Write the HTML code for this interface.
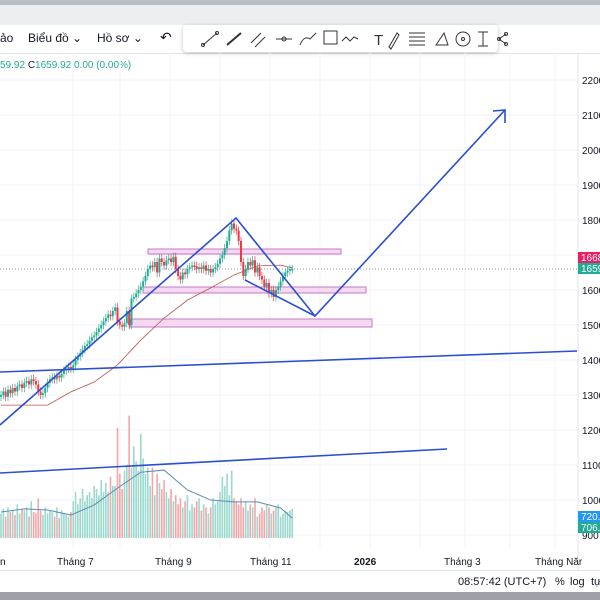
<!DOCTYPE html>
<html><head><meta charset="utf-8">
<style>
body{margin:0;width:600px;height:600px;overflow:hidden;background:#fff;font-family:"Liberation Sans",sans-serif;position:relative}
.abs{position:absolute}
.tb{font-size:12px;color:#131722;top:31px}
.tl{font-size:10px;color:#131722;top:557px}
</style></head><body>
<div class="abs" style="left:0;top:0;width:600px;height:5px;background:#b9bdc6"></div>
<div class="abs" style="left:0;top:5px;width:600px;height:20px;background:#eceef1"></div>
<div class="abs" style="left:0;top:25px;width:600px;height:28px;background:#fff;border-bottom:1px solid #e0e3eb"></div>
<div class="abs tb" style="left:0">ảo</div>
<div class="abs tb" style="left:28px">Biểu đồ ⌄</div>
<div class="abs tb" style="left:97px">Hồ sơ ⌄</div>
<div class="abs tb" style="left:160px;font-size:14px;top:29px">↶</div>
<div class="abs tb" style="left:185px;font-size:14px;top:29px;color:#c8c8c8">↷</div>
<div class="abs" style="left:183px;top:25px;width:315px;height:27px;background:#fff;border-radius:4px;box-shadow:0 1px 4px rgba(0,0,0,.25)"></div>
<svg class="abs" style="left:183px;top:25px" width="340" height="28" stroke="#333" fill="none" stroke-width="1">
<g><line x1="20" y1="20" x2="34" y2="8"/><circle cx="20" cy="20" r="1.5"/><circle cx="34" cy="8" r="1.5"/></g>
<g><line x1="44" y1="20" x2="58" y2="8" stroke-width="2"/></g>
<g><line x1="68" y1="18" x2="78" y2="8"/><line x1="72" y1="22" x2="82" y2="12"/></g>
<g><line x1="93" y1="14" x2="109" y2="14"/><circle cx="101" cy="14" r="2"/></g>
<g><path d="M117 20 q4 -10 10 -6 l6 -6"/></g>
<g><rect x="141" y="6" width="13" height="13"/></g>
<g><path d="M159 16 l4 -4 l4 4 l4 -4 l4 2"/></g>
<text x="191" y="20" font-size="15" fill="#333" stroke="none">T</text>
<g><path d="M206 22 l8 -14 l2 2 l-8 14z"/></g>
<g><line x1="226" y1="8" x2="242" y2="8"/><line x1="226" y1="12" x2="242" y2="12"/><line x1="226" y1="16" x2="242" y2="16"/><line x1="226" y1="20" x2="242" y2="20"/></g>
<g><path d="M253 20 l8 -12 l4 12z"/></g>
<g><circle cx="280" cy="14" r="7"/><circle cx="280" cy="14" r="1.5"/></g>
<g><line x1="300" y1="7" x2="300" y2="21"/><line x1="295" y1="7" x2="305" y2="7"/><line x1="295" y1="21" x2="305" y2="21"/></g>
<g><circle cx="316" cy="14" r="1.5"/><circle cx="323" cy="9" r="1.5"/><circle cx="323" cy="19" r="1.5"/><line x1="316" y1="14" x2="323" y2="9"/><line x1="316" y1="14" x2="323" y2="19"/></g>
</svg>
<div class="abs" style="left:0;top:60px;font-size:10px;color:#22ab94">59.92 <span style="color:#131722">C</span>1659.92 0.00 (0.00%)</div>

<svg class="abs" id="chart" style="left:0;top:0" width="600" height="600"></svg>

<div class="abs" style="left:0;top:570px;width:600px;height:1px;background:#e0e3eb"></div>
<div class="abs tl" style="left:0">n</div>
<div class="abs tl" style="left:57px">Tháng 7</div>
<div class="abs tl" style="left:155px">Tháng 9</div>
<div class="abs tl" style="left:250px">Tháng 11</div>
<div class="abs tl" style="left:354px;font-weight:bold">2026</div>
<div class="abs tl" style="left:444px">Tháng 3</div>
<div class="abs tl" style="left:535px">Tháng Năr</div>
<div class="abs" style="left:0;top:571px;width:600px;height:21px;background:#fff;font-size:11px;color:#131722">
<span class="abs" style="left:458px;top:5px">08:57:42 (UTC+7)</span>
<span class="abs" style="left:555px;top:5px">%</span>
<span class="abs" style="left:570px;top:5px">log</span>
<span class="abs" style="left:591px;top:5px">tự</span></div>
<div class="abs" style="left:0;top:592px;width:600px;height:8px;background:#9ea2a8"></div>

<script>
const closes=[1300,1310,1295,1315,1305,1320,1310,1325,1330,1320,
1335,1340,1330,1345,1340,1330,1310,1300,1305,1320,
1335,1345,1350,1345,1355,1350,1360,1370,1375,1380,
1375,1385,1400,1410,1420,1430,1440,1445,1455,1465,
1470,1480,1490,1500,1510,1520,1530,1525,1540,1550,
1510,1500,1495,1505,1540,1500,1575,1580,1590,1600,
1610,1625,1640,1660,1670,1665,1680,1650,1690,1680,
1670,1685,1690,1680,1695,1660,1640,1630,1650,1645,
1660,1665,1670,1668,1660,1665,1660,1670,1655,1660,
1650,1660,1665,1675,1690,1700,1720,1740,1770,1790,
1775,1770,1740,1680,1640,1660,1680,1670,1685,1650,
1665,1640,1630,1610,1620,1590,1600,1580,1600,1610,
1625,1640,1650,1655,1660,1660];
const volumes=[800,950,700,1000,850,900,750,1100,800,950,
900,1000,700,1200,850,800,1300,900,750,1000,
800,900,850,700,1000,650,900,800,750,700,
850,1200,1500,1100,1300,1600,1200,1400,1500,1300,
1700,1600,1400,1900,1500,1800,1500,2000,1700,1700,
3600,2100,1600,2200,2400,4000,2300,3000,2500,2200,
3400,2600,2100,2300,1700,2300,1400,2100,1800,1600,
1900,1500,1300,1600,1200,1400,1100,1300,1000,1200,
1400,900,1100,1000,1200,1300,900,1100,1000,800,
1000,1300,1100,1200,1500,2000,1700,2100,1400,2200,
1300,1200,1100,1300,1000,1200,900,1100,1000,1300,
700,800,1000,900,1100,1000,800,900,1000,1100,
700,800,900,850,900,950];
const maStep=10;
const maVals=[1271,1271,1271,1309,1337,1386,1457,1520,1571,1606,1643,1669,1671,1663];
const volMa=[850,950,915,750,1080,1630,2150,2220,1570,1240,1180,1180,980,650];
const priceTicks=[2200,2100,2000,1900,1800,1700,1600,1500,1400,1300,1200,1100,1000,900];

const NS='http://www.w3.org/2000/svg';
const svg=document.getElementById('chart');
const X=i=>1+i*2.33;
const Y=p=>80+(2200-p)*0.35;
const VY=v=>538-v*0.0306;
function mk(t,a,parent){const e=document.createElementNS(NS,t);for(const k in a)e.setAttribute(k,a[k]);(parent||svg).appendChild(e);return e;}

for(const p of priceTicks){const l=mk('line',{x1:0,x2:578,y1:Y(p),y2:Y(p),stroke:'#f0f3fa'});

}
for(const gx of [73,120,170,220,270,320,370,420,465,510,555]){const l=mk('line',{x1:gx,x2:gx,y1:53,y2:548,stroke:'#f0f3fa'});

}
const ax=mk('line',{x1:578,x2:578,y1:53,y2:570,stroke:'#e0e3eb'});


for(const p of priceTicks){const t=mk('text',{x:582,y:Y(p)+4,'font-size':10,fill:'#131722'});t.textContent=p;

}

volumes.forEach((v,i)=>{const up=i==0?true:closes[i]>=closes[i-1];
const r=mk('rect',{x:X(i)-0.8,y:VY(v),width:1.6,height:538-VY(v),fill:up?'#9bd8cd':'#f5a5a8'});

});
const vm=mk('polyline',{points:volMa.map((v,k)=>X(Math.min(k*maStep,closes.length-1))+','+VY(v)).join(' '),fill:'none',stroke:'#5b8fb0','stroke-width':1});



const cp=mk('line',{x1:0,x2:578,y1:Y(closes[closes.length-1]),y2:Y(closes[closes.length-1]),stroke:'#9598a1','stroke-dasharray':'1,2'});



for(const z of [[148,249,341,254],[143,287,366,293],[130,319,372,327]]){const r=mk('rect',{x:z[0],y:z[1],width:z[2]-z[0],height:z[3]-z[1],fill:'#f6d8f3',stroke:'#c47ac4','stroke-width':1});

}

const ma=mk('polyline',{points:maVals.map((v,k)=>X(Math.min(k*maStep,closes.length-1))+','+Y(v)).join(' '),fill:'none',stroke:'#c0504d','stroke-width':0.8});



closes.forEach((c,i)=>{const o=i==0?c-5:closes[i-1];const up=c>=o;const col=up?'#22ab94':'#f23645';
const hi=Math.max(o,c)+12,lo=Math.min(o,c)-12;
const g=mk('g',{});


mk('line',{x1:X(i),x2:X(i),y1:Y(hi),y2:Y(lo),stroke:col,'stroke-width':0.7},g);
mk('rect',{x:X(i)-1,y:Y(Math.max(o,c)),width:2,height:Math.max(1.5,Math.abs(Y(o)-Y(c))),fill:col},g);});

const B='#2a4fd0';
function ln(pts,name){const l=mk('polyline',{points:pts,fill:'none',stroke:B,'stroke-width':1.6});

}
ln('0,425 236,218 315,316 505,110','zigzag-projection');
ln('493,111 505,110 505,123','projection-arrowhead');
ln('245,280 315,316','wedge-lower-line');
ln('0,372 577,351','upper-trendline');
ln('0,473 447,449','lower-trendline');

function lab(y,bg,txt,name){const r=mk('rect',{x:578,y:y,width:22,height:11,fill:bg});


const t=mk('text',{x:581,y:y+9,'font-size':10,fill:'#fff'});t.textContent=txt;

}
lab(252,'#e91e63','1668','high-price-label');
lab(263,'#22ab94','1659','last-price-label');
lab(511,'#2196f3','720.','volume-ma-label');
lab(522,'#22ab94','706.','volume-label');
</script>
</body></html>
